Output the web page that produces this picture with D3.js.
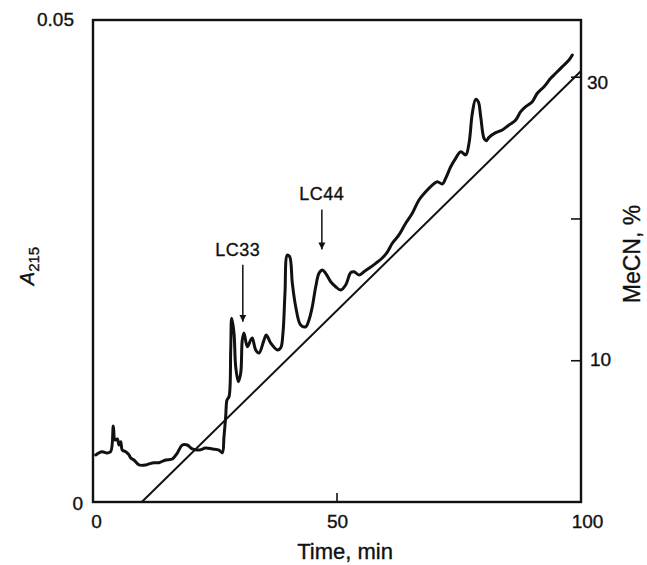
<!DOCTYPE html>
<html>
<head>
<meta charset="utf-8">
<script src="https://cdn.jsdelivr.net/npm/d3@7/dist/d3.min.js"></script>
<style>
  html, body { margin: 0; padding: 0; background: #fff; }
  svg text { font-family: "Liberation Sans", Arial, Helvetica, sans-serif; fill: #111; stroke: #111; stroke-width: 0.35px; }
</style>
</head>
<body>
<div id="chart"></div>
<script>
// elution time, min
const timeMin = [0.55, 1.84, 2.87, 3.63, 4.16, 4.51, 4.98, 5.33, 5.68, 6.0, 6.7, 7.38, 7.73, 8.4, 9.43,
  10.8, 12.15, 13.52, 14.9, 16.25, 17.27, 18.3, 19.32, 20.35, 21.72, 23.09, 24.45, 25.82, 26.5, 26.84,
  27.19, 27.46, 27.87, 28.22, 28.42, 28.89, 29.24, 29.77, 30.27, 30.59, 30.94, 31.62, 32.32, 32.64,
  33.34, 34.02, 35.04, 35.51, 36.41, 37.77, 38.46, 38.93, 39.34, 39.82, 40.31, 40.84, 41.54, 42.56,
  43.59, 44.26, 44.94, 45.64, 46.31, 46.99, 47.68, 48.71, 49.73, 50.76, 51.78, 52.81, 53.48, 54.51,
  55.53, 56.56, 57.93, 59.28, 60.31, 61.33, 62.7, 64.08, 65.43, 66.8, 68.18, 69.53, 70.55, 71.58,
  72.27, 73.3, 74.32, 75.35, 76.37, 77.05, 77.73, 78.42, 78.95, 79.45, 80.12, 80.59, 81.15, 82.52,
  83.87, 85.25, 86.62, 87.64, 88.67, 90.02, 91.05, 92.42, 93.79, 94.82, 96.17, 97.54, 98.22];

// absorbance at 215 nm
const a215 = [0.00488, 0.00522, 0.00508, 0.00522, 0.00788, 0.00643, 0.00654, 0.00591, 0.00626, 0.00539,
  0.00522, 0.00488, 0.00456, 0.00436, 0.00384, 0.00384, 0.00405, 0.00408, 0.00436, 0.00446, 0.00508,
  0.00591, 0.00591, 0.0055, 0.00539, 0.0056, 0.0055, 0.00539, 0.00511, 0.00677, 0.00885, 0.01058,
  0.01092, 0.01577, 0.01906, 0.01753, 0.01404, 0.01248, 0.01338, 0.0168, 0.01753, 0.01611, 0.0168,
  0.01701, 0.01577, 0.01546, 0.0168, 0.01732, 0.01649, 0.01577, 0.01598, 0.01753, 0.02168, 0.02562,
  0.02545, 0.02272, 0.02026, 0.01836, 0.01818, 0.01888, 0.02026, 0.02233, 0.02372, 0.02407, 0.02372,
  0.02285, 0.02233, 0.02199, 0.02251, 0.02379, 0.02389, 0.02355, 0.02389, 0.02424, 0.02476, 0.02531,
  0.02593, 0.02684, 0.0277, 0.02891, 0.02995, 0.03133, 0.03219, 0.03288, 0.03323, 0.03299, 0.03358,
  0.03478, 0.03565, 0.03634, 0.036, 0.03721, 0.04032, 0.04177, 0.04153, 0.03997, 0.03773, 0.03748,
  0.03783, 0.03831, 0.03859, 0.03911, 0.03963, 0.04049, 0.04101, 0.04153, 0.0424, 0.04308, 0.04395,
  0.04447, 0.04516, 0.04585, 0.04637];

// acetonitrile gradient
const gradTime = [10, 100];
const gradMeCN = [0, 30.4];

const xTicks = [0, 50, 100];
const leftTicks = [0, 0.05];
const rightTicks = [10, 20, 30];
const rightLabels = [10, 30];

// peak annotations
const peakNames = ['LC33', 'LC44'];
const peakTime = [30.7, 46.9];
const peakA = [0.0187, 0.0262];

const W = 647, H = 565;
const mLeft = 93, mRight = 581, mTop = 20, mBottom = 502;

const svg = d3.select('#chart').append('svg')
  .attr('width', W)
  .attr('height', H);

const x = d3.scaleLinear().domain([0, 100]).range([mLeft, mRight]);
const y = d3.scaleLinear().domain([0, 0.05]).range([mBottom, mTop]);
const y2 = d3.scaleLinear().domain([0, 34]).range([mBottom, mTop]);

const defs = svg.append('defs');

// clip for data
defs.append('clipPath').attr('id', 'plot')
  .append('rect')
  .attr('x', mLeft).attr('y', mTop)
  .attr('width', mRight - mLeft).attr('height', mBottom - mTop);

defs.append('marker')
  .attr('id', 'arr')
  .attr('viewBox', '0 0 10 10')
  .attr('refX', 10).attr('refY', 5)
  .attr('markerWidth', 7).attr('markerHeight', 9)
  .attr('markerUnits', 'userSpaceOnUse')
  .attr('orient', 'auto')
  .append('path')
  .attr('d', 'M0,0 L10,5 L0,10 Z')
  .attr('fill', '#111');

const g = svg.append('g');

// gradient line
const gradLine = d3.line()
  .x((d, i) => x(gradTime[i]))
  .y((d) => y2(d));

g.append('path')
  .attr('clip-path', 'url(#plot)')
  .attr('d', gradLine(gradMeCN))
  .attr('fill', 'none')
  .attr('stroke', '#111')
  .attr('stroke-width', 2);

// chromatogram
const trace = d3.line()
  .x((d, i) => x(timeMin[i]))
  .y((d) => y(d))
  .curve(d3.curveCatmullRom.alpha(0.5));

g.append('path')
  .attr('d', trace(a215))
  .attr('fill', 'none')
  .attr('stroke', '#111')
  .attr('stroke-width', 3)
  .attr('stroke-linejoin', 'round')
  .attr('stroke-linecap', 'round');

// frame
g.append('rect')
  .attr('x', mLeft).attr('y', mTop)
  .attr('width', mRight - mLeft).attr('height', mBottom - mTop)
  .attr('fill', 'none')
  .attr('stroke', '#111')
  .attr('stroke-width', 2.4);

// bottom axis
const xAxis = g.append('g')
  .attr('transform', `translate(0,${mBottom})`)
  .call(d3.axisBottom(x).tickValues(xTicks).tickSize(0).tickPadding(13).tickFormat(d3.format('d')));
xAxis.select('.domain').remove();
xAxis.selectAll('text').attr('font-size', 19).attr('fill', '#111')
  .attr('dx', (d) => (d === 0 ? 3 : d === 100 ? 6 : 0));

g.append('line')
  .attr('x1', x(50)).attr('x2', x(50))
  .attr('y1', mBottom).attr('y2', mBottom - 9)
  .attr('stroke', '#111').attr('stroke-width', 1.6);

// left axis
const yAxis = g.append('g')
  .attr('transform', `translate(${mLeft},0)`)
  .call(d3.axisLeft(y).tickValues(leftTicks).tickSize(0)
    .tickFormat((d) => (d === 0 ? '0' : d3.format('.2f')(d))));
yAxis.select('.domain').remove();
yAxis.selectAll('text').attr('font-size', 19).attr('fill', '#111')
  .attr('x', (d) => (d === 0 ? -10 : -19))
  .attr('dy', (d) => (d === 0 ? '0.4em' : '0.3em'));

// right axis
const rAxis = g.append('g')
  .attr('transform', `translate(${mRight},0)`)
  .call(d3.axisRight(y2).tickValues(rightTicks).tickSize(-10).tickPadding(8)
    .tickFormat((d) => (rightLabels.includes(d) ? d : '')));
rAxis.select('.domain').remove();
rAxis.selectAll('line').attr('stroke', '#111').attr('stroke-width', 1.6);
rAxis.selectAll('text').attr('font-size', 19).attr('fill', '#111')
  .attr('x', (d) => (d === 10 ? 9 : 6))
  .attr('dy', (d) => (d === 30 ? '0.6em' : '0.3em'));

// axis titles
svg.append('text')
  .attr('x', 345)
  .attr('y', 559)
  .attr('text-anchor', 'middle')
  .attr('font-size', 22)
  .text('Time, min');

const aTitle = svg.append('text')
  .attr('transform', 'translate(34,266) rotate(-90)')
  .attr('text-anchor', 'middle')
  .attr('font-size', 20);
aTitle.append('tspan').attr('font-style', 'italic').text('A');
aTitle.append('tspan').attr('font-size', 15).attr('dy', 5).text('215');

svg.append('text')
  .attr('transform', 'translate(640,254) rotate(-90)')
  .attr('text-anchor', 'middle')
  .attr('font-size', 23)
  .text('MeCN, %');

// peak labels with arrows
peakNames.forEach((name, i) => {
  const px = x(peakTime[i]), py = y(peakA[i]);
  const len = i === 0 ? 57 : 40;
  g.append('line')
    .attr('x1', px).attr('x2', px)
    .attr('y1', py - len).attr('y2', py)
    .attr('stroke', '#111').attr('stroke-width', 1.5)
    .attr('marker-end', 'url(#arr)');
  g.append('text')
    .attr('x', px - (i === 0 ? 5 : 0))
    .attr('y', py - len - 9)
    .attr('text-anchor', 'middle')
    .attr('font-size', 18)
    .attr('letter-spacing', 0.5)
    .text(name);
});
</script>
</body>
</html>
